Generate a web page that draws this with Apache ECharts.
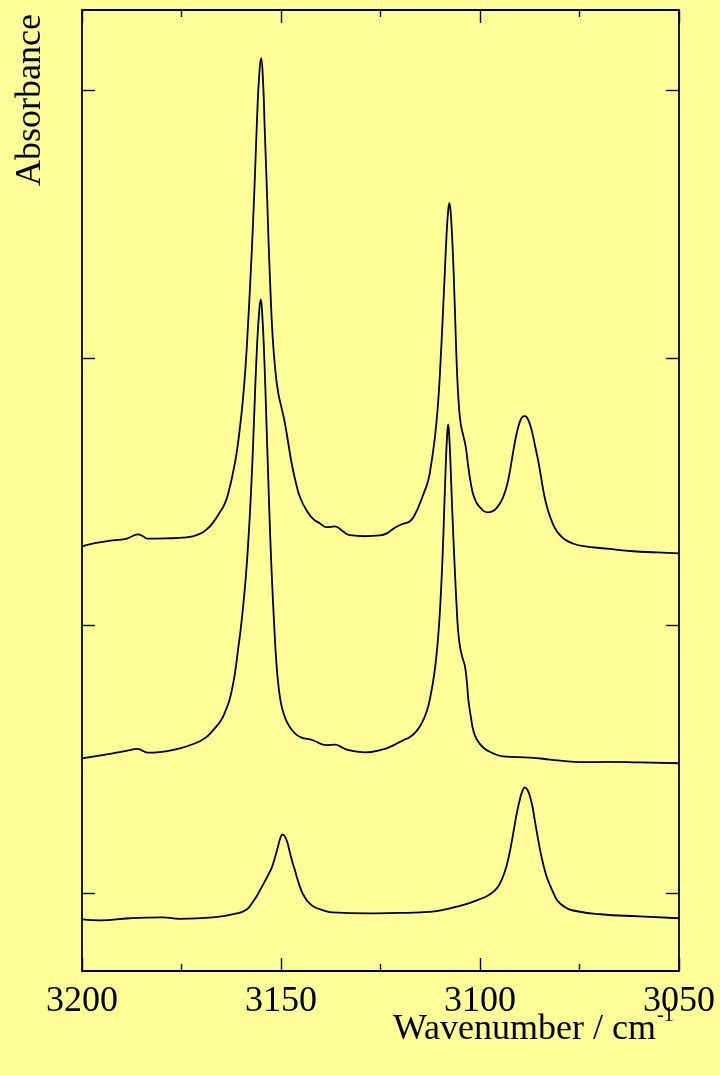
<!DOCTYPE html>
<html>
<head>
<meta charset="utf-8">
<title>IR spectra 3050–3200 cm-1</title>
<script src="https://cdn.jsdelivr.net/npm/echarts@6/dist/echarts.min.js"></script>
<style>
  html, body { margin: 0; padding: 0; background: #ffff99; }
  #chart { width: 720px; height: 1075px; }
</style>
</head>
<body>
<div id="chart"></div>
<script>
// Wavenumber axis (cm-1), drawn high to low
const xTickLabels = [3200, 3150, 3100, 3050];
// Absorbance positions of the tick marks on the vertical axis (arbitrary, offset traces)
const yTickValues = [0, 1, 2, 3];

// Upper trace: [wavenumber, absorbance]
const traceUpper = [
  [3200.0,1.296],[3196.8,1.308],[3192.3,1.319],[3189.3,1.323],[3187.4,1.334],[3186.0,1.341],
  [3184.7,1.334],[3183.5,1.325],[3179.2,1.326],[3173.7,1.330],[3170.4,1.343],[3168.5,1.362],
  [3167.1,1.385],[3165.6,1.418],[3164.1,1.457],[3163.0,1.510],[3162.1,1.569],[3161.2,1.640],
  [3160.4,1.730],[3159.6,1.840],[3158.9,1.970],[3158.3,2.120],[3157.7,2.290],[3157.1,2.480],
  [3156.5,2.700],[3156.0,2.900],[3155.5,3.050],[3155.0,3.120],[3154.5,3.030],[3154.1,2.860],
  [3153.6,2.650],[3153.2,2.470],[3152.7,2.270],[3152.1,2.080],[3151.4,1.950],[3150.7,1.870],
  [3149.8,1.810],[3149.0,1.755],[3148.1,1.675],[3147.3,1.605],[3146.2,1.530],[3145.2,1.479],
  [3143.6,1.431],[3142.0,1.400],[3140.2,1.382],[3138.5,1.368],[3136.5,1.371],[3134.4,1.352],
  [3132.7,1.338],[3128.9,1.334],[3125.2,1.337],[3123.4,1.345],[3121.4,1.366],[3119.6,1.379],
  [3117.6,1.390],[3116.2,1.420],[3115.1,1.457],[3114.0,1.500],[3113.0,1.543],[3112.3,1.600],
  [3111.7,1.660],[3111.0,1.750],[3110.4,1.860],[3109.9,1.990],[3109.4,2.140],[3108.9,2.300],
  [3108.4,2.460],[3108.0,2.550],[3107.7,2.578],[3107.4,2.550],[3107.0,2.450],[3106.6,2.310],
  [3106.2,2.130],[3105.8,1.960],[3105.3,1.820],[3104.8,1.750],[3104.2,1.710],[3103.6,1.670],
  [3103.0,1.600],[3102.4,1.540],[3101.7,1.490],[3100.9,1.460],[3100.0,1.442],[3098.2,1.423],
  [3096.8,1.428],[3095.7,1.442],[3094.5,1.470],[3093.5,1.510],[3092.7,1.560],[3092.0,1.620],
  [3091.3,1.680],[3090.6,1.730],[3089.9,1.765],[3089.3,1.780],[3088.7,1.783],[3088.1,1.775],
  [3087.4,1.750],[3086.7,1.710],[3086.0,1.660],[3085.3,1.610],[3084.6,1.550],[3083.9,1.490],
  [3083.1,1.440],[3082.2,1.400],[3081.2,1.365],[3080.0,1.340],[3078.5,1.320],[3076.5,1.306],
  [3074.0,1.297],[3068.1,1.288],[3061.5,1.278],[3055.5,1.274],[3050.0,1.270]
];

// Middle trace
const traceMiddle = [
  [3200.0,0.504],[3196.8,0.512],[3192.3,0.523],[3189.3,0.531],[3187.4,0.537],[3186.0,0.540],
  [3184.7,0.532],[3183.5,0.526],[3180.5,0.528],[3175.4,0.542],[3172.2,0.557],[3169.2,0.579],
  [3167.1,0.609],[3165.1,0.646],[3164.0,0.680],[3163.0,0.720],[3162.2,0.770],[3161.5,0.830],
  [3160.8,0.910],[3160.1,0.990],[3159.4,1.090],[3158.8,1.190],[3158.2,1.320],[3157.6,1.480],
  [3157.0,1.680],[3156.5,1.880],[3156.0,2.050],[3155.5,2.170],[3155.1,2.219],[3154.7,2.160],
  [3154.2,2.000],[3153.7,1.780],[3153.2,1.550],[3152.7,1.330],[3152.2,1.150],[3151.7,1.000],
  [3151.2,0.870],[3150.6,0.770],[3150.0,0.710],[3149.3,0.670],[3148.5,0.640],[3147.5,0.615],
  [3146.3,0.595],[3145.0,0.583],[3142.0,0.572],[3138.5,0.554],[3136.5,0.556],[3134.4,0.543],
  [3132.7,0.534],[3128.9,0.527],[3124.4,0.538],[3122.5,0.548],[3120.9,0.560],[3119.3,0.572],
  [3117.5,0.585],[3115.8,0.609],[3114.5,0.640],[3113.3,0.684],[3112.4,0.740],[3111.7,0.800],
  [3111.0,0.880],[3110.4,0.980],[3109.9,1.100],[3109.4,1.260],[3109.0,1.430],[3108.6,1.600],
  [3108.3,1.700],[3108.0,1.752],[3107.7,1.700],[3107.4,1.600],[3107.0,1.440],[3106.6,1.300],
  [3106.3,1.200],[3105.9,1.080],[3105.5,0.980],[3105.0,0.920],[3104.4,0.880],[3103.8,0.850],
  [3103.3,0.790],[3102.9,0.720],[3102.3,0.660],[3101.7,0.610],[3100.8,0.575],[3099.2,0.545],
  [3097.0,0.525],[3094.2,0.512],[3087.4,0.507],[3082.4,0.500],[3078.0,0.493],[3073.0,0.490],
  [3068.1,0.491],[3059.8,0.489],[3050.0,0.486]
];

// Lower trace
const traceLower = [
  [3200.0,-0.097],[3195.5,-0.101],[3188.0,-0.093],[3179.7,-0.090],[3175.4,-0.095],[3167.1,-0.090],
  [3161.1,-0.075],[3158.6,-0.060],[3157.3,-0.037],[3156.0,-0.008],[3155.2,0.014],[3154.6,0.030],
  [3153.6,0.058],[3152.3,0.097],[3151.5,0.135],[3150.8,0.172],[3150.2,0.205],[3149.6,0.220],
  [3149.0,0.212],[3148.4,0.190],[3147.8,0.155],[3147.2,0.120],[3146.5,0.086],[3145.8,0.050],
  [3145.0,0.015],[3144.2,-0.010],[3143.0,-0.035],[3141.5,-0.052],[3139.0,-0.065],[3137.0,-0.071],
  [3128.4,-0.075],[3120.1,-0.073],[3115.0,-0.071],[3111.0,-0.066],[3107.5,-0.056],[3103.5,-0.040],
  [3100.5,-0.024],[3098.0,-0.008],[3096.2,0.012],[3095.0,0.037],[3093.8,0.080],[3092.8,0.135],
  [3092.0,0.195],[3091.3,0.255],[3090.6,0.310],[3090.0,0.350],[3089.4,0.380],[3088.7,0.396],
  [3088.1,0.387],[3087.5,0.365],[3086.9,0.330],[3086.2,0.270],[3085.5,0.210],[3084.8,0.155],
  [3084.1,0.108],[3083.3,0.065],[3082.4,0.030],[3081.5,0.000],[3080.5,-0.028],[3078.8,-0.050],
  [3076.6,-0.064],[3069.8,-0.078],[3059.8,-0.086],[3050.0,-0.093]
];

const SERIF = "'Liberation Serif', 'Times New Roman', serif";
const INK = '#000000';

const chart = echarts.init(document.getElementById('chart'), null, { renderer: 'canvas' });

function xAxisDef(position, showLabels) {
  return {
    type: 'value',
    position: position,
    min: 3050,
    max: 3200,
    interval: 50,
    inverse: true,
    axisLine: { show: true, onZero: false, lineStyle: { color: INK, width: 1.8 } },
    axisTick: { show: true, inside: true, length: 13, lineStyle: { color: INK, width: 1.4 } },
    minorTick: { show: true, splitNumber: 2, length: 7, lineStyle: { color: INK, width: 1.4 } },
    splitLine: { show: false },
    minorSplitLine: { show: false },
    axisLabel: {
      show: showLabels,
      margin: 13,
      color: INK,
      fontFamily: SERIF,
      fontSize: 36,
      formatter: v => xTickLabels.includes(v) ? String(v) : ''
    }
  };
}

function yAxisDef(position) {
  return {
    type: 'value',
    position: position,
    min: -0.29,
    max: 3.3,
    axisLine: { show: true, onZero: false, lineStyle: { color: INK, width: 1.8 } },
    axisTick: { show: true, inside: true, length: 13, customValues: yTickValues, lineStyle: { color: INK, width: 1.4 } },
    axisLabel: { show: false },
    splitLine: { show: false }
  };
}

function trace(data) {
  return {
    type: 'line',
    data: data,
    xAxisIndex: 0,
    yAxisIndex: 0,
    showSymbol: false,
    smooth: 0.5,
    animation: false,
    lineStyle: { color: INK, width: 1.8 }
  };
}

chart.setOption({
  backgroundColor: '#ffff99',
  animation: false,
  grid: { left: 82, right: 41, top: 10, bottom: 104, containLabel: false },
  xAxis: [xAxisDef('bottom', true), xAxisDef('top', false)],
  yAxis: [yAxisDef('left'), yAxisDef('right')],
  series: [trace(traceUpper), trace(traceMiddle), trace(traceLower)],
  graphic: [
    {
      type: 'text',
      x: 31, y: 100,
      rotation: Math.PI / 2,
      style: {
        text: 'Absorbance',
        font: '36px ' + SERIF,
        fill: INK,
        align: 'center',
        verticalAlign: 'middle'
      }
    },
    {
      type: 'text',
      x: 656, y: 1030,
      style: {
        text: 'Wavenumber / cm',
        font: '36px ' + SERIF,
        fill: INK,
        align: 'right',
        verticalAlign: 'middle'
      }
    },
    {
      type: 'text',
      x: 657, y: 1016,
      style: {
        text: '-1',
        font: '20px ' + SERIF,
        fill: INK,
        align: 'left',
        verticalAlign: 'middle'
      }
    }
  ]
});
</script>
</body>
</html>
